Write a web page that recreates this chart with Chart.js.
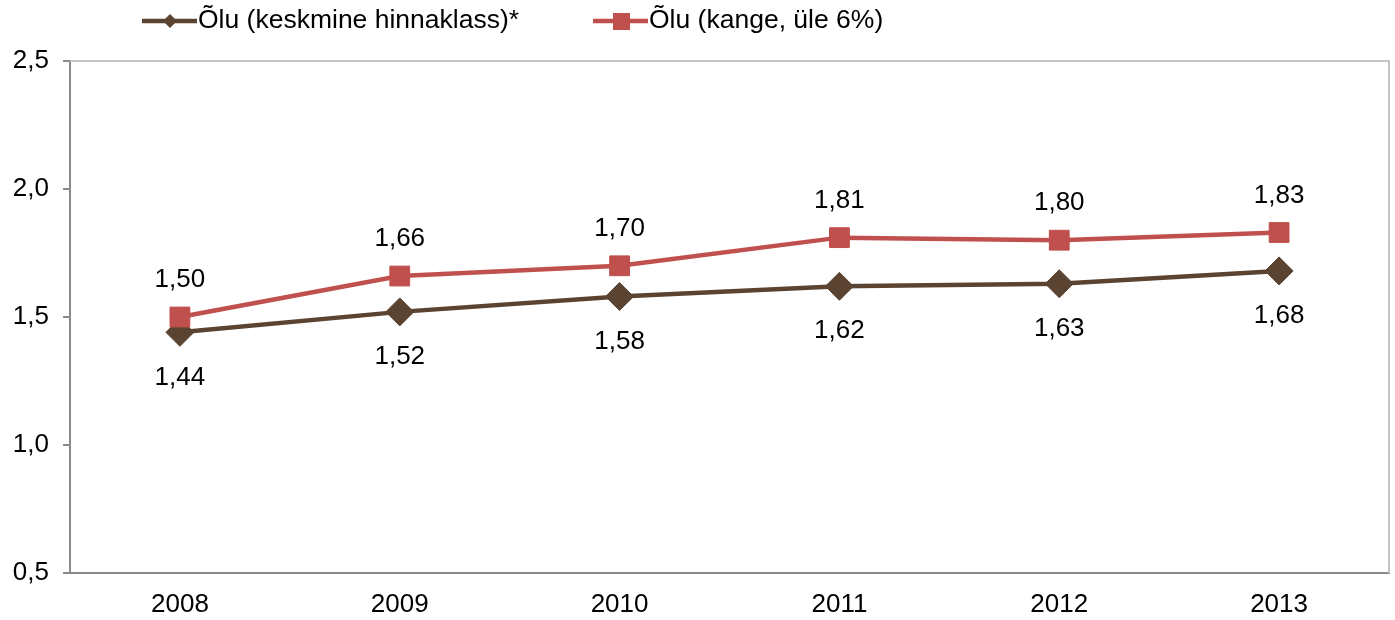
<!DOCTYPE html>
<html>
<head>
<meta charset="utf-8">
<script src="https://cdn.jsdelivr.net/npm/chart.js@4/dist/chart.umd.min.js"></script>
<style>
    html, body { margin: 0; padding: 0; background: #fff; overflow: hidden; }
    canvas { display: block; }
</style>
</head>
<body>
<canvas id="priceChart" width="1395" height="620" style="width:1395px;height:620px"></canvas>
<script>
const years = ["2008", "2009", "2010", "2011", "2012", "2013"];
const beerMid = [1.44, 1.52, 1.58, 1.62, 1.63, 1.68];
const beerStrong = [1.50, 1.66, 1.70, 1.81, 1.80, 1.83];
const seriesNames = ["Õlu (keskmine hinnaklass)*", "Õlu (kange, üle 6%)"];
const yTicks = [0.5, 1.0, 1.5, 2.0, 2.5];

const BROWN = "#5b4331";
const RED = "#c0504d";
const FONT = "'Liberation Sans', Arial, sans-serif";

function fmt(v, digits) {
    return v.toFixed(digits).replace('.', ',');
}

/* Helper plugins */

// light box round the plot area
const plotBox = {
    id: 'plotBox',
    beforeDatasetsDraw(chart) {
        const a = chart.chartArea;
        const ctx = chart.ctx;
        ctx.save();
        ctx.strokeStyle = "#c4c4c4";
        ctx.lineWidth = 2;
        ctx.beginPath();
        ctx.moveTo(a.left, a.top);
        ctx.lineTo(a.right, a.top);
        ctx.lineTo(a.right, a.bottom);
        ctx.stroke();
        ctx.restore();
    }
};

// value labels: red series above, brown series below
const valueLabels = {
    id: 'valueLabels',
    afterDatasetsDraw(chart) {
        const ctx = chart.ctx;
        ctx.save();
        ctx.font = "26px " + FONT;
        ctx.fillStyle = "#000";
        ctx.textAlign = "center";
        ctx.textBaseline = "middle";
        chart.data.datasets.forEach((ds, i) => {
            const meta = chart.getDatasetMeta(i);
            meta.data.forEach((pt, j) => {
                const dy = ds.labelPos === 'above' ? -37 : 45;
                ctx.fillText(fmt(ds.data[j], 2), pt.x, pt.y + dy);
            });
        });
        ctx.restore();
    }
};

// legend with line + marker, as in the original
const lineLegend = {
    id: 'lineLegend',
    afterDraw(chart) {
        const ctx = chart.ctx;
        const items = [
            { x: 142, color: BROWN, style: 'diamond' },
            { x: 593, color: RED, style: 'square' }
        ];
        const y = 21;
        ctx.save();
        items.forEach((it, i) => {
            ctx.strokeStyle = it.color;
            ctx.fillStyle = it.color;
            ctx.lineWidth = 4.5;
            ctx.beginPath();
            ctx.moveTo(it.x, y);
            ctx.lineTo(it.x + 55, y);
            ctx.stroke();
            const cx = it.x + 28;
            ctx.beginPath();
            if (it.style === 'diamond') {
                ctx.moveTo(cx - 7, y);
                ctx.lineTo(cx, y - 7);
                ctx.lineTo(cx + 7, y);
                ctx.lineTo(cx, y + 7);
                ctx.closePath();
            } else {
                ctx.rect(cx - 8, y - 8, 17, 17);
            }
            ctx.fill();
            ctx.fillStyle = "#000";
            ctx.font = "26.5px " + FONT;
            ctx.textAlign = "left";
            ctx.textBaseline = "middle";
            ctx.fillText(seriesNames[i], it.x + 56, y);
        });
        ctx.restore();
    }
};

/* Chart config */

const config = {
    type: 'line',
    data: {
        labels: years,
        datasets: [
            {
                label: seriesNames[0],
                data: beerMid,
                borderColor: BROWN,
                backgroundColor: BROWN,
                borderWidth: 4.5,
                pointStyle: 'rectRot',
                pointRadius: 14,
                pointBorderWidth: 1,
                pointHoverRadius: 14,
                labelPos: 'below',
                order: 2
            },
            {
                label: seriesNames[1],
                data: beerStrong,
                borderColor: RED,
                backgroundColor: RED,
                borderWidth: 4.5,
                pointStyle: 'rect',
                pointRadius: 14,
                pointBorderWidth: 1,
                pointHoverRadius: 14,
                labelPos: 'above',
                order: 1
            }
        ]
    },
    options: {
        responsive: false,
        animation: false,
        layout: {
            autoPadding: false,
            padding: { top: 61, left: 0, right: 6, bottom: 0 }
        },
        plugins: {
            legend: { display: false },
            tooltip: { enabled: false }
        },
        scales: {
            x: {
                offset: true,
                grid: { display: false, drawTicks: false },
                border: { color: "#8a8a8a", width: 2 },
                ticks: {
                    color: "#000",
                    padding: 16,
                    font: { family: FONT, size: 26 }
                },
                afterFit: axis => {
                    axis.height = 47;
                    axis.paddingLeft = 0;
                    axis.paddingRight = 0;
                }
            },
            y: {
                min: 0.5,
                max: 2.5,
                afterBuildTicks: axis => {
                    axis.ticks = yTicks.map(v => ({ value: v }));
                },
                grid: {
                    drawOnChartArea: false,
                    drawTicks: true,
                    tickLength: 7,
                    color: "#8a8a8a",
                    lineWidth: 2
                },
                border: { color: "#8a8a8a", width: 2 },
                ticks: {
                    color: "#000",
                    padding: 14,
                    font: { family: FONT, size: 26 },
                    callback: v => fmt(v, 1)
                },
                afterFit: axis => { axis.width = 70; }
            }
        }
    },
    plugins: [plotBox, valueLabels, lineLegend]
};

new Chart(document.getElementById('priceChart'), config);
</script>
</body>
</html>
